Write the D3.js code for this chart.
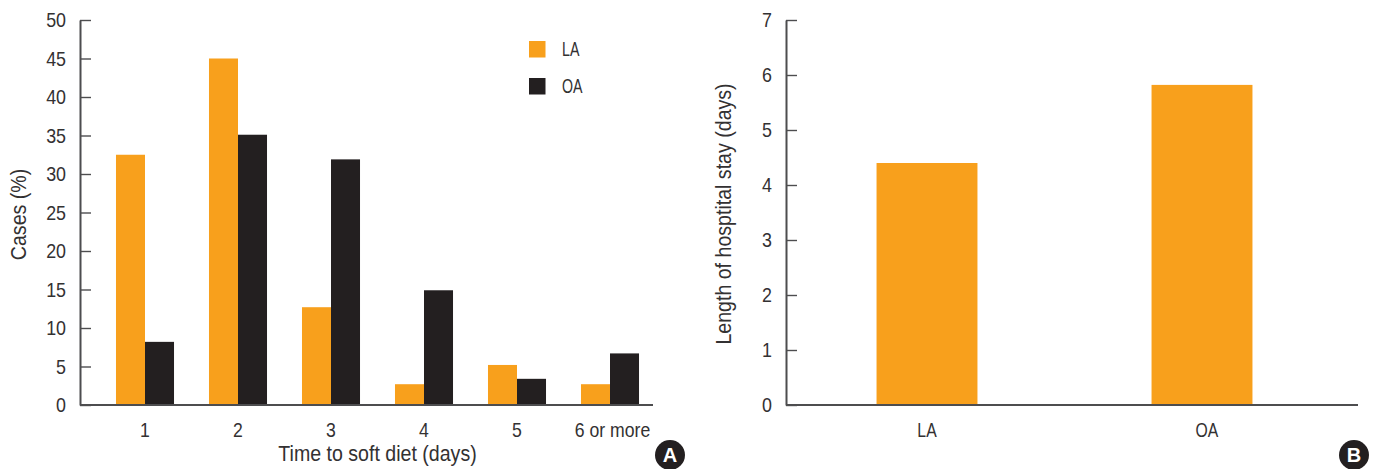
<!DOCTYPE html>
<html>
<head>
<meta charset="utf-8">
<script src="https://cdn.jsdelivr.net/npm/d3@7"></script>
<style>
    body { margin: 0; background: #fff; }
    text { font-family: "Liberation Sans", sans-serif; fill: #333132; }
</style>
</head>
<body>
<svg id="chart" width="1377" height="469"></svg>
<script>
const dietDays = ["1", "2", "3", "4", "5", "6 or more"]
const dietLA = [32.5, 45, 12.7, 2.7, 5.2, 2.7]
const dietOA = [8.2, 35.1, 31.9, 14.9, 3.4, 6.7]
const dietTicks = [0, 5, 10, 15, 20, 25, 30, 35, 40, 45, 50]
const groups = ["LA", "OA"]
const stayValues = [4.4, 5.82]
const stayTicks = [0, 1, 2, 3, 4, 5, 6, 7]

const orange = "#f8a01c"
const dark = "#231f20"
const axisColor = "#4d4d4f"
const top_ = 20
const bottom = 405
const fontSize = 21

const svg = d3.select("#chart")

// the original type is a condensed face, none is installed so squeeze the glyphs
const narrow = (selection, factor) => {
    selection.each(function () {
        d3.select(this)
            .attr("textLength", this.getComputedTextLength() * factor)
            .attr("lengthAdjust", "spacingAndGlyphs")
    })
}

const styleAxis = (g, factor) => {
    g.attr("font-family", null).attr("font-size", null)
    g.selectAll("line").attr("stroke", axisColor).attr("stroke-width", 1.4)
    g.selectAll("path").attr("stroke", axisColor).attr("stroke-width", 2)
    g.selectAll("text").attr("font-size", fontSize).attr("fill", null).call(narrow, factor)
}

const badge = (cx, letter) => {
    svg.append("circle").attr("cx", cx).attr("cy", 455).attr("r", 15).attr("fill", dark)
    svg.append("text")
        .text(letter)
        .attr("x", cx)
        .attr("y", 462)
        .attr("text-anchor", "middle")
        .attr("font-size", 20)
        .attr("font-weight", "bold")
        .style("fill", "#fff")
}

// panel A
const xA = d3.scaleBand()
    .domain(dietDays)
    .range([98.5, 656.5])
    .paddingInner(0.376)
    .paddingOuter(0.188)
const xInnerA = d3.scaleBand().domain(groups).range([0, xA.bandwidth()])
const yA = d3.scaleLinear().domain([0, 50]).range([bottom, top_])

svg.append("g")
    .attr("transform", "translate(80,0)")
    .call(d3.axisLeft(yA).tickValues(dietTicks).tickSizeInner(-11).tickSizeOuter(0).tickPadding(14))
    .call(styleAxis, 0.85)

const seriesA = [dietLA, dietOA]
seriesA.forEach((values, index) => {
    svg.selectAll(`.bar-a-${index}`)
        .data(values)
        .enter()
        .append("rect")
        .attr("class", `bar-a-${index}`)
        .attr("x", (d, i) => xA(dietDays[i]) + xInnerA(groups[index]))
        .attr("y", (d) => yA(d))
        .attr("width", xInnerA.bandwidth())
        .attr("height", (d) => bottom - yA(d))
        .attr("fill", index === 0 ? orange : dark)
})

svg.append("g")
    .attr("transform", `translate(0,${bottom})`)
    .call(d3.axisBottom(xA).tickSize(0).tickPadding(17))
    .call(styleAxis, 0.84)
    .call((g) => g.select(".domain").attr("d", "M80,0H653"))
    .call((g) => g.selectAll(".tick text").filter((d) => d === "6 or more").attr("dx", 2.5))

svg.append("text")
    .text("Time to soft diet (days)")
    .attr("x", 377.5)
    .attr("y", 461)
    .attr("text-anchor", "middle")
    .attr("font-size", 22)
    .call(narrow, 0.89)

svg.append("text")
    .text("Cases (%)")
    .attr("transform", "translate(26,214.5) rotate(-90)")
    .attr("text-anchor", "middle")
    .attr("font-size", 22)
    .call(narrow, 0.89)

groups.forEach((name, index) => {
    svg.append("rect")
        .attr("x", 529)
        .attr("y", 41 + index * 37)
        .attr("width", 16.5)
        .attr("height", 16.5)
        .attr("fill", index === 0 ? orange : dark)
    svg.append("text")
        .text(name)
        .attr("x", 562)
        .attr("y", 56 + index * 37)
        .attr("font-size", 20)
        .call(narrow, 0.71)
})

badge(670, "A")

// panel B
const xB = d3.scaleBand()
    .domain(groups)
    .range([789.5, 1339.5])
    .paddingInner(0.633)
    .paddingOuter(0.3165)
const yB = d3.scaleLinear().domain([0, 7]).range([bottom, top_])

svg.append("g")
    .attr("transform", "translate(786,0)")
    .call(d3.axisLeft(yB).tickValues(stayTicks).tickFormat(d3.format("d")).tickSizeInner(-11).tickSizeOuter(0).tickPadding(14))
    .call(styleAxis, 0.85)

svg.selectAll(".bar-b")
    .data(stayValues)
    .enter()
    .append("rect")
    .attr("class", "bar-b")
    .attr("x", (d, i) => xB(groups[i]))
    .attr("y", (d) => yB(d))
    .attr("width", xB.bandwidth())
    .attr("height", (d) => bottom - yB(d))
    .attr("fill", orange)

svg.append("g")
    .attr("transform", `translate(0,${bottom})`)
    .call(d3.axisBottom(xB).tickSize(0).tickPadding(17))
    .call(styleAxis, 0.75)
    .call((g) => g.select(".domain").attr("d", "M786,0H1358"))
    .call((g) => g.selectAll(".tick text").filter((d) => d === "OA").attr("dx", 5))

svg.append("text")
    .text("Length of hosptital stay (days)")
    .attr("transform", "translate(731,214) rotate(-90)")
    .attr("text-anchor", "middle")
    .attr("font-size", 22)
    .call(narrow, 0.89)

badge(1354, "B")
</script>
</body>
</html>
